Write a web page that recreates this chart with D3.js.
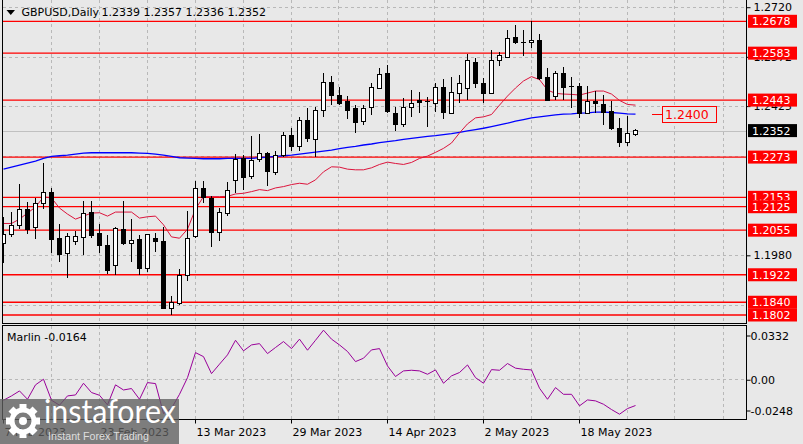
<!DOCTYPE html>
<html><head><meta charset="utf-8">
<script src="https://cdn.jsdelivr.net/npm/d3@7/dist/d3.min.js"></script>
<style>
body{margin:0;background:#e8e8e8;}
svg{display:block;font-family:"DejaVu Sans",sans-serif;}
</style>
</head><body>
<svg id="c" width="803" height="444"></svg>
<script>
// ---------- data ----------
const opens  = [1.2016,1.2043,1.2068,1.2118,1.2064,1.2135,1.2168,1.2029,1.1986,1.2022,
                1.2034,1.2109,1.2044,1.2008,1.1949,1.2058,1.2016,1.2026,1.1941,1.2029,
                1.2021,1.1822,1.1837,1.1921,1.2036,1.2180,1.2150,1.2048,1.2105,1.2203,
                1.2269,1.2215,1.2266,1.2284,1.2228,1.2279,1.2337,1.2306,1.2381,1.2326,
                1.2413,1.2496,1.2456,1.2438,1.2419,1.2379,1.2422,1.2478,1.2521,1.2404,
                1.2369,1.2422,1.2441,1.2436,1.2433,1.2481,1.2404,1.2463,1.2478,1.2556,
                1.2493,1.2463,1.2560,1.2569,1.2630,1.2615,1.2615,1.2622,1.2510,1.2453,
                1.2523,1.2485,1.2485,1.2404,1.2440,1.2430,1.2410,1.2359,1.2317,1.2339];
const highs  = [1.2095,1.2110,1.2193,1.2140,1.2150,1.2255,1.2180,1.2073,1.2046,1.2053,
                1.2143,1.2143,1.2073,1.2041,1.2064,1.2142,1.2088,1.2041,1.2043,1.2046,
                1.2064,1.1859,1.1939,1.2112,1.2202,1.2202,1.2157,1.2120,1.2198,1.2282,
                1.2279,1.2336,1.2341,1.2289,1.2291,1.2347,1.2359,1.2394,1.2420,1.2423,
                1.2525,1.2515,1.2483,1.2455,1.2428,1.2428,1.2495,1.2538,1.2548,1.2423,
                1.2448,1.2473,1.2468,1.2453,1.2493,1.2505,1.2513,1.2518,1.2580,1.2568,
                1.2510,1.2592,1.2587,1.2652,1.2667,1.2652,1.2678,1.2639,1.2538,1.2530,
                1.2543,1.2513,1.2493,1.2485,1.2470,1.2458,1.2440,1.2389,1.2396,1.2357];
const lows   = [1.1958,1.2034,1.2058,1.2044,1.2028,1.2117,1.1988,1.1961,1.1912,1.2011,
                1.1981,1.2031,1.1988,1.1924,1.1921,1.2011,1.1961,1.1921,1.1931,1.1991,
                1.1819,1.1802,1.1832,1.1904,1.2032,1.2135,1.2006,1.2023,1.2097,1.2167,
                1.2175,1.2207,1.2259,1.2188,1.2220,1.2274,1.2291,1.2291,1.2319,1.2274,
                1.2394,1.2428,1.2428,1.2386,1.2344,1.2369,1.2399,1.2475,1.2405,1.2352,
                1.2364,1.2392,1.2405,1.2364,1.2408,1.2386,1.2401,1.2433,1.2443,1.2478,
                1.2433,1.2460,1.2546,1.2568,1.2609,1.2575,1.2599,1.2503,1.2443,1.2443,
                1.2443,1.2419,1.2389,1.2401,1.2404,1.2369,1.2354,1.2304,1.2306,1.2336];
const closes = [1.2043,1.2068,1.2117,1.2058,1.2135,1.2168,1.2028,1.1982,1.2037,1.2037,
                1.2105,1.2039,1.2009,1.1934,1.2059,1.2015,1.2023,1.1941,1.2041,1.2021,
                1.1820,1.1839,1.1919,1.2029,1.2180,1.2153,1.2048,1.2108,1.2173,1.2266,
                1.2213,1.2264,1.2284,1.2229,1.2279,1.2337,1.2306,1.2382,1.2327,1.2411,
                1.2496,1.2456,1.2433,1.2411,1.2376,1.2419,1.2481,1.2518,1.2408,1.2369,
                1.2422,1.2433,1.2436,1.2438,1.2481,1.2405,1.2466,1.2493,1.2561,1.2493,
                1.2463,1.2560,1.2575,1.2627,1.2614,1.2613,1.2622,1.2508,1.2443,1.2523,
                1.2480,1.2482,1.2404,1.2440,1.2433,1.2407,1.2359,1.2317,1.2344,1.2352];
const maFast = [1.2075,1.2075,1.2088,1.2106,1.2124,1.2154,1.2151,1.2121,1.2103,1.2088,
                1.2097,1.2106,1.2107,1.2097,1.2109,1.2109,1.2109,1.2091,1.2095,1.2097,
                1.2071,1.2035,1.2031,1.2058,1.2118,1.2155,1.2155,1.2155,1.2156,1.2163,
                1.2165,1.2170,1.2176,1.2173,1.2181,1.2185,1.2191,1.2195,1.2192,1.2205,
                1.2229,1.2244,1.2243,1.2237,1.2235,1.2235,1.2241,1.2251,1.2258,1.2254,
                1.2251,1.2257,1.2269,1.2276,1.2287,1.2299,1.2315,1.2345,1.2372,1.2390,
                1.2393,1.2400,1.2428,1.2455,1.2479,1.2500,1.2513,1.2504,1.2473,1.2463,
                1.2461,1.2460,1.2458,1.2464,1.2470,1.2470,1.2461,1.2442,1.2430,1.2428];
const maSlow = [1.2237,1.2243,1.2249,1.2255,1.2261,1.2269,1.2275,1.2277,1.2279,1.2282,
                1.2285,1.2286,1.2286,1.2286,1.2286,1.2286,1.2286,1.2285,1.2284,1.2282,
                1.2279,1.2275,1.2271,1.2270,1.2269,1.2268,1.2268,1.2268,1.2269,1.2269,
                1.2269,1.2269,1.2271,1.2273,1.2275,1.2277,1.2279,1.2282,1.2285,1.2288,
                1.2291,1.2294,1.2298,1.2302,1.2305,1.2309,1.2312,1.2316,1.2319,1.2322,
                1.2326,1.2329,1.2332,1.2335,1.2337,1.2340,1.2343,1.2347,1.2351,1.2355,
                1.2359,1.2364,1.2369,1.2374,1.2380,1.2385,1.2390,1.2393,1.2396,1.2399,
                1.2401,1.2402,1.2404,1.2405,1.2407,1.2407,1.2406,1.2404,1.2402,1.2401];
const marlin = [-0.0131,-0.0104,-0.0073,-0.0125,-0.0035,0.0000,-0.0131,-0.0162,-0.0104,-0.0098,
                -0.0025,-0.0083,-0.0100,-0.0160,-0.0035,-0.0067,-0.0058,-0.0125,-0.0021,-0.0027,
                -0.0214,-0.0181,-0.0094,0.0010,0.0166,0.0141,0.0035,0.0094,0.0152,0.0243,
                0.0177,0.0214,0.0222,0.0160,0.0198,0.0235,0.0191,0.0250,0.0181,0.0243,
                0.0306,0.0250,0.0214,0.0173,0.0110,0.0131,0.0183,0.0191,0.0083,0.0017,
                0.0052,0.0056,0.0052,0.0031,0.0058,-0.0025,0.0021,0.0042,0.0089,0.0010,
                -0.0025,0.0060,0.0056,0.0098,0.0069,0.0062,0.0058,-0.0056,-0.0125,-0.0052,
                -0.0094,-0.0094,-0.0166,-0.0129,-0.0135,-0.0156,-0.0189,-0.0218,-0.0183,-0.0164];
const levels = [1.2678,1.2583,1.2443,1.2273,1.2153,1.2125,1.2055,1.1922,1.1840,1.1802];
const gridTicks = [1.2720,1.2572,1.2425,1.2277,1.2128,1.1980,1.1832];
const labelTicks = [1.2720,1.2572,1.2425,1.1980];
const dateTickIndex  = [0,12,24,36,48,60,72];
const dateTickLabels = ["7 Feb 2023","23 Feb 2023","13 Mar 2023","29 Mar 2023","14 Apr 2023","2 May 2023","18 May 2023"];
const marlinTicks = [0.0332,0,-0.0248];
const marlinTickLabels = ["0.0332","0.00","-0.0248"];
const lastPrice = 1.2352;
const maLabelValue = 1.2400;
const symbolTitle = "GBPUSD,Daily";
const ohlcTitle = "1.2339 1.2357 1.2336 1.2352";
const marlinTitle = "Marlin -0.0164";

// ---------- layout ----------
const svg = d3.select("#c");
const L = 2.5, R = 746.5, mainBottom = 323.5, subTop = 325.5, subBottom = 419.5;
const x = d3.scaleLinear().domain([0, 79]).range([3.5, 635.5]);
const y = d3.scaleLinear().domain([1.1802, 1.2678]).range([315, 21.3]);
const ym = d3.scaleLinear().domain([-0.0248, 0.0332]).range([419, 326]);

svg.append("rect").attr("width",803).attr("height",444).attr("fill","#e8e8e8");

const defs = svg.append("defs");
defs.append("clipPath").attr("id","mainClip").append("rect")
  .attr("x",L+0.5).attr("y",0).attr("width",R-L-1).attr("height",mainBottom);
defs.append("clipPath").attr("id","subClip").append("rect")
  .attr("x",L+0.5).attr("y",subTop+0.5).attr("width",R-L-1).attr("height",subBottom-subTop-1);

const gridColor = "#b8b8b8";
const vIdx = d3.range(6, 93, 6);
const grid = svg.append("g").attr("stroke",gridColor).attr("stroke-dasharray","3,3").attr("shape-rendering","crispEdges");
vIdx.forEach(i=>{
  const xx = Math.round(x(i)) + 0.5 - 1;
  grid.append("line").attr("x1",xx).attr("x2",xx).attr("y1",0).attr("y2",mainBottom);
  grid.append("line").attr("x1",xx).attr("x2",xx).attr("y1",subTop).attr("y2",subBottom);
});
gridTicks.forEach(p=>{
  const yy = Math.round(y(p))+0.5;
  grid.append("line").attr("x1",L).attr("x2",R).attr("y1",yy).attr("y2",yy);
});
grid.append("line").attr("x1",L).attr("x2",R).attr("y1",Math.round(ym(0))+0.5).attr("y2",Math.round(ym(0))+0.5);

// current price line
svg.append("line").attr("x1",L).attr("x2",R)
  .attr("y1",Math.round(y(lastPrice))+0.5).attr("y2",Math.round(y(lastPrice))+0.5)
  .attr("stroke","#c0c0c0").attr("shape-rendering","crispEdges");

// level lines
const lv = svg.append("g");
levels.forEach(p=>{
  lv.append("line").attr("x1",L).attr("x2",R).attr("y1",y(p)).attr("y2",y(p))
    .attr("stroke","#ff0000").attr("stroke-width",1.3);
});

// moving averages
const main = svg.append("g").attr("clip-path","url(#mainClip)");
const lineGen = d3.line().x((d,i)=>x(i)).y(d=>y(d));
main.append("path").datum(maSlow).attr("d",lineGen).attr("fill","none").attr("stroke","#0000ff").attr("stroke-width",1.3);
main.append("path").datum(maFast).attr("d",lineGen).attr("fill","none").attr("stroke","#dc143c").attr("stroke-width",1);

// candles
const candles = main.append("g").attr("shape-rendering","crispEdges");
opens.forEach((o,i)=>{
  const c = closes[i], h = highs[i], l = lows[i];
  const cx = x(i);
  const bull = c >= o;
  candles.append("line").attr("x1",cx).attr("x2",cx).attr("y1",y(h)).attr("y2",y(l)).attr("stroke","#000");
  const top = y(Math.max(o,c)), bot = y(Math.min(o,c));
  const hgt = Math.max(bot-top, 1);
  if (hgt <= 1.2) {
    candles.append("line").attr("x1",cx-2.5).attr("x2",cx+2.5).attr("y1",top).attr("y2",top).attr("stroke","#000");
  } else {
    candles.append("rect").attr("x",cx-2).attr("y",top).attr("width",4).attr("height",hgt)
      .attr("fill", bull ? "#ffffff" : "#000000").attr("stroke","#000");
  }
});

// MA value marker
const yMa = y(maLabelValue);
svg.append("line").attr("x1",652).attr("x2",662).attr("y1",yMa).attr("y2",yMa).attr("stroke","#ff0000");
svg.append("rect").attr("x",662.5).attr("y",yMa-8).attr("width",54).attr("height",16)
  .attr("fill","#e8e8e8").attr("stroke","#ff0000");
svg.append("text").attr("x",665).attr("y",yMa).attr("dy","0.36em").attr("font-size",12.5)
  .attr("fill","#ff0000").text(d3.format(".4f")(maLabelValue));

// frames
const frame = svg.append("g").attr("stroke","#000").attr("fill","none").attr("shape-rendering","crispEdges");
frame.append("line").attr("x1",L).attr("x2",L).attr("y1",0).attr("y2",mainBottom);
frame.append("line").attr("x1",R).attr("x2",R).attr("y1",0).attr("y2",mainBottom);
frame.append("line").attr("x1",L).attr("x2",R).attr("y1",mainBottom).attr("y2",mainBottom);
frame.append("rect").attr("x",L).attr("y",subTop).attr("width",R-L).attr("height",subBottom-subTop);

// right price axis
const axisR = d3.axisRight(y).tickValues(labelTicks).tickFormat(d3.format(".4f")).tickSize(4).tickPadding(3);
const ga = svg.append("g").attr("transform",`translate(${R},0)`).call(axisR);
ga.select(".domain").remove();
ga.selectAll("text").attr("font-size",11).attr("font-family","DejaVu Sans").attr("fill","#000");
ga.selectAll("line").attr("stroke","#000");

// level labels
const lab = svg.append("g");
levels.forEach(p=>{
  lab.append("rect").attr("x",748).attr("y",y(p)-6.5).attr("width",49).attr("height",13).attr("fill","#ff0000");
  lab.append("text").attr("x",752).attr("y",y(p)).attr("dy","0.36em").attr("font-size",11)
    .attr("fill","#ffffff").text(d3.format(".4f")(p));
});
lab.append("rect").attr("x",748).attr("y",y(lastPrice)-6.5).attr("width",49).attr("height",13).attr("fill","#000000");
lab.append("text").attr("x",752).attr("y",y(lastPrice)).attr("dy","0.36em").attr("font-size",11)
  .attr("fill","#ffffff").text(d3.format(".4f")(lastPrice));

// marlin indicator
const sub = svg.append("g").attr("clip-path","url(#subClip)");
sub.append("path").datum(marlin)
  .attr("d", d3.line().x((d,i)=>x(i)).y(d=>ym(d)))
  .attr("fill","none").attr("stroke","#990099").attr("stroke-width",1);

const mOff = [10, 1, -8];
marlinTicks.forEach((v,k)=>{
  svg.append("line").attr("x1",R).attr("x2",R+4).attr("y1",ym(v)+mOff[k]).attr("y2",ym(v)+mOff[k]).attr("stroke","#000");
  svg.append("text").attr("x",R+4).attr("y",ym(v)+mOff[k]).attr("dy","0.36em").attr("font-size",11)
    .text(marlinTickLabels[k]);
});
svg.append("text").attr("x",7).attr("y",337).attr("dy","0.36em").attr("font-size",11).text(marlinTitle);

// date axis
dateTickIndex.forEach((idx,k)=>{
  const xx = Math.round(x(idx)) - 0.5;
  svg.append("line").attr("x1",xx).attr("x2",xx).attr("y1",subBottom).attr("y2",subBottom+4).attr("stroke","#000");
  svg.append("text").attr("x",xx+1).attr("y",432).attr("dy","0.36em").attr("font-size",11).text(dateTickLabels[k]);
});

// header
svg.append("path").attr("d","M6.5,10 L15,10 L10.75,15 Z").attr("fill","#000");
svg.append("text").attr("x",21.5).attr("y",12.5).attr("dy","0.36em").attr("font-size",11).text(symbolTitle);
svg.append("text").attr("x",101.5).attr("y",12.5).attr("dy","0.36em").attr("font-size",11).text(ohlcTitle);

// watermark
const wm = svg.append("g");
wm.append("rect").attr("x",0).attr("y",399).attr("width",179).attr("height",45).attr("fill","#5f5f5f").attr("opacity",0.78);
const gear = wm.append("g").attr("transform","translate(23,421)");
d3.range(8).forEach(k=>{
  gear.append("rect").attr("x",-3.5).attr("y",-17).attr("width",7).attr("height",8)
    .attr("fill","#ffffff").attr("transform",`rotate(${k*45})`);
});
gear.append("circle").attr("r",11).attr("fill","none").attr("stroke","#ffffff").attr("stroke-width",5);
gear.append("circle").attr("r",4).attr("fill","#ffffff");
wm.append("text").attr("x",44).attr("y",423).attr("font-family","Lato, 'Open Sans', sans-serif")
  .attr("font-size",32).attr("fill","#ffffff").attr("textLength",132).attr("lengthAdjust","spacingAndGlyphs").text("instaforex");
wm.append("text").attr("x",48).attr("y",440).attr("font-family","'Liberation Sans', Arial, sans-serif")
  .attr("font-size",10.5).attr("fill","#dddddd").attr("textLength",101).attr("lengthAdjust","spacingAndGlyphs").text("Instant Forex Trading");
</script>
</body></html>
